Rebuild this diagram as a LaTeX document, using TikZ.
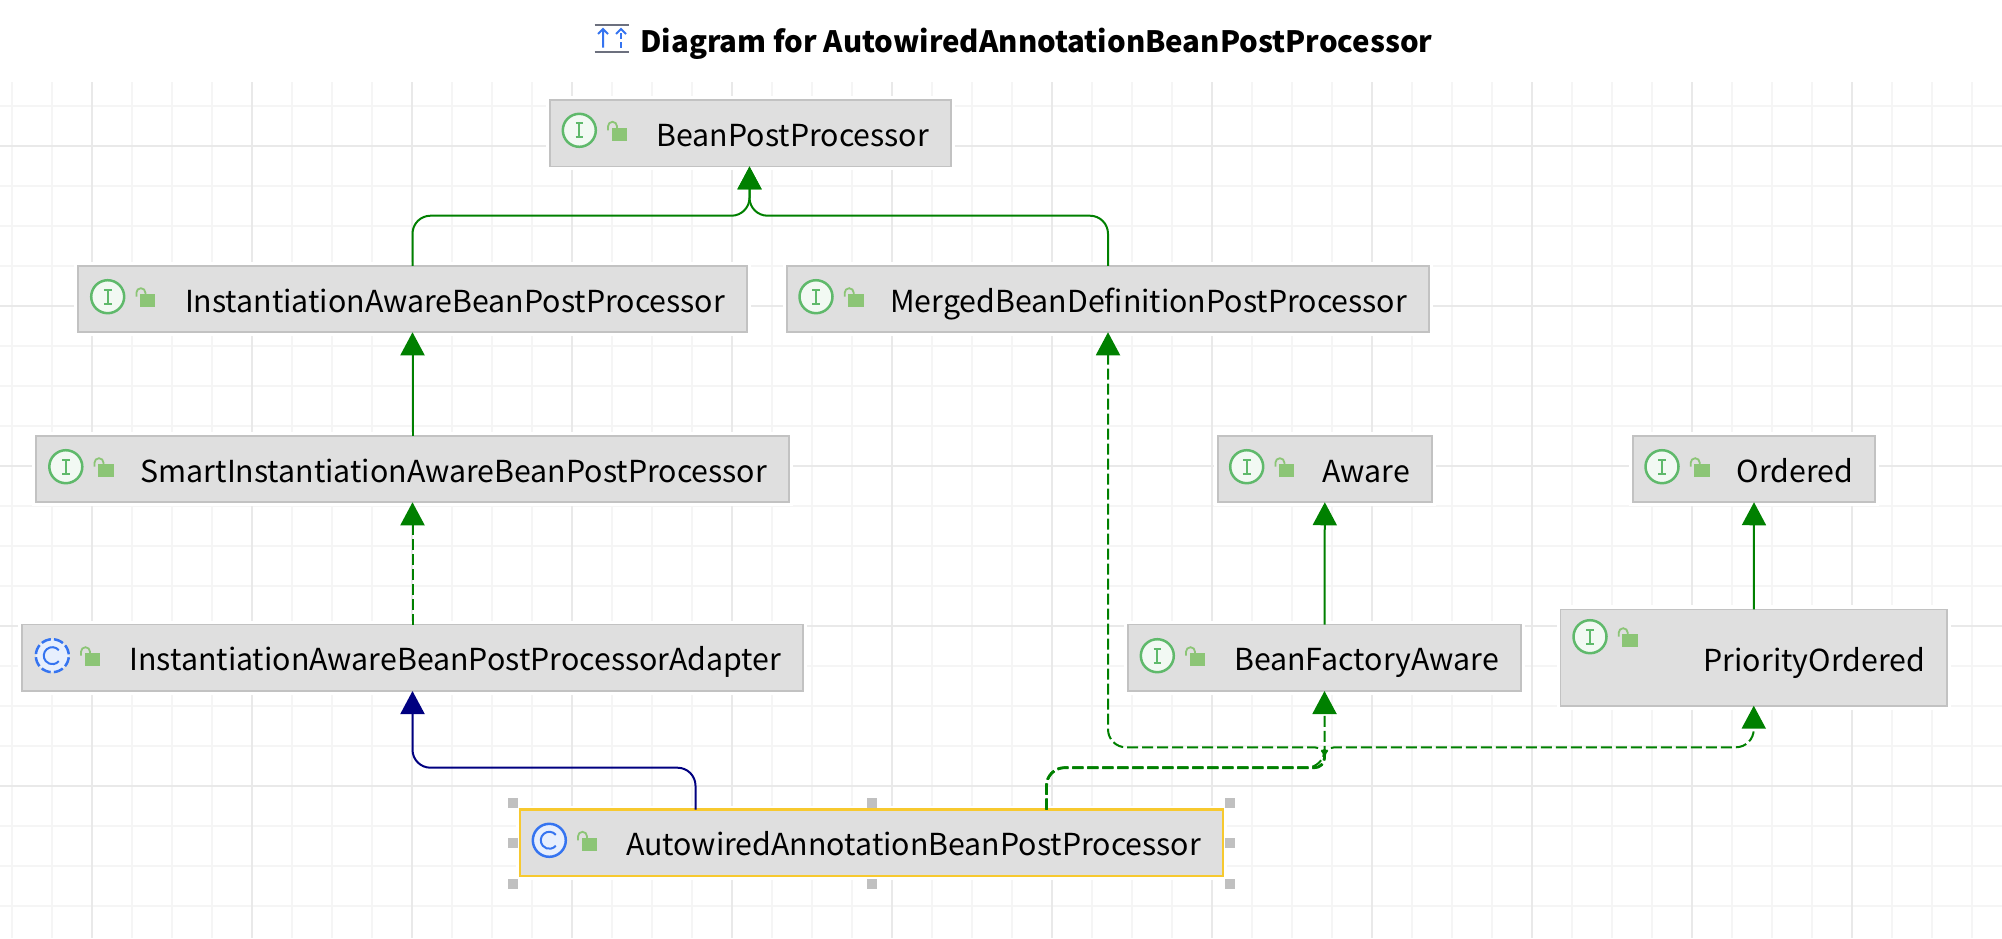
\documentclass[tikz,border=0pt]{standalone}
\usepackage{fontspec}
\setmainfont{Noto Sans CJK SC}
\usetikzlibrary{arrows.meta}
\definecolor{gridminor}{HTML}{F5F5F5}
\definecolor{gridmajor}{HTML}{E9E9E9}
\definecolor{boxfill}{HTML}{DFDFDF}
\definecolor{boxline}{HTML}{C2C2C2}
\definecolor{selline}{HTML}{F7C92F}
\definecolor{handlegrey}{HTML}{C0C0C0}
\definecolor{inhgreen}{HTML}{008000}
\definecolor{extblue}{HTML}{000080}
\definecolor{igreen}{HTML}{5FB96B}
\definecolor{ifill}{HTML}{F2F9F3}
\definecolor{cblue}{HTML}{3574F0}
\definecolor{cfill}{HTML}{E7EFFD}
\definecolor{lockgreen}{HTML}{8CC576}
\definecolor{bargrey}{HTML}{6C707E}
\newdimen\pxu \pxu=0.5pt
\newcommand{\lab}[2]{\hbox to #1\pxu{\hss #2\hskip 11pt}}
\tikzset{
  x=0.5pt,y=-0.5pt,
  box/.style 2 args={rectangle,draw=boxline,fill=boxfill,line width=0.8pt,inner sep=0pt,outer sep=0pt,
    minimum width=#1*0.5pt,minimum height=#2*0.5pt,text height=13.6pt,text depth=0.5pt,
    font=\fontsize{15.15pt}{18pt}\selectfont,
    preaction={draw=white,line width=4pt}},
  sel/.style={draw=selline,line width=1.1pt},
  handle/.style={rectangle,fill=handlegrey,inner sep=0pt,outer sep=0pt,minimum size=5pt},
  gridmin/.style={draw=gridminor,line width=1pt},
  gridmaj/.style={draw=gridmajor,line width=1pt},
  tip/.style={-{Triangle[length=11.5pt,width=12pt]}},
  rel/.style={tip,line width=1pt,rounded corners=9pt},
  inh/.style={rel,draw=inhgreen},
  ext/.style={rel,draw=extblue},
  impl/.style={rel,draw=inhgreen,dash pattern=on 5.5pt off 2pt},
  lockpic/.pic={
    \draw[lockgreen,line width=0.9pt] (28.7,0) -- (28.7,-4) arc[start angle=180,end angle=360,radius=4.5] -- (37.7,-2);
    \fill[lockgreen] (32.4,-2.6) rectangle (47.7,10.7);
  },
  ifc/.pic={
    \draw[igreen,fill=ifill,line width=1.25pt] (0,0) circle[radius=16.5];
    \draw[igreen,line width=1pt] (-3.8,-7) -- (3.8,-7) (0,-7) -- (0,7) (-3.8,7) -- (3.8,7);
    \pic {lockpic};
  },
  cls/.pic={
    \draw[cblue,fill=cfill,line width=1.25pt] (0,0) circle[radius=16.5];
    \draw[cblue,line width=1pt] (6.5,-5.5) arc[start angle=-40,end angle=-320,radius=8.5];
    \pic {lockpic};
  },
  acls/.pic={
    \fill[cfill] (0,0) circle[radius=16.5];
    \draw[cblue,line width=1.25pt,dash pattern=on 4.9pt off 1.58pt,dash phase=5.69pt] (0,0) circle[radius=16.5];
    \draw[cblue,line width=1pt] (6.5,-5.5) arc[start angle=-40,end angle=-320,radius=8.5];
    \pic {lockpic};
  },
}
\begin{document}
\begin{tikzpicture}
\useasboundingbox (0,0) rectangle (2002,938);
\fill[white] (0,0) rectangle (2002,938);
% grid
\foreach \gx in {12,52,...,2000} \draw[gridmin] (\gx,82) -- (\gx,938);
\foreach \gy in {106,146,...,930} \draw[gridmin] (0,\gy) -- (2002,\gy);
\foreach \gx in {92,252,...,2000} \draw[gridmaj] (\gx,82) -- (\gx,938);
\foreach \gy in {146,306,...,930} \draw[gridmaj] (0,\gy) -- (2002,\gy);
% title
\node[anchor=base west,inner sep=0pt,font=\fontsize{14.7pt}{18pt}\selectfont\bfseries] (title) at (640,52.2) {Diagram for AutowiredAnnotationBeanPostProcessor};
\draw[bargrey,line width=1pt] (594.6,24.5) -- (629,24.5) (594.6,51.5) -- (629,51.5);
\draw[cblue,line width=1pt] (603,47.5) -- (603,30) (598,34) -- (603,29) -- (608,34);
\draw[cblue,line width=1pt] (616,34) -- (621,29) -- (626,34);
\draw[cblue,line width=1pt,dash pattern=on 3pt off 1.5pt] (621,47.5) -- (621,30);
% classes
\node[box={401}{66.5}] (bean) at (750.5,133.2) {\lab{401}{BeanPostProcessor}};
\node[box={669}{66.5}] (iabpp) at (412.5,299) {\lab{669}{InstantiationAwareBeanPostProcessor}};
\node[box={642}{66.5}] (merged) at (1108,299) {\lab{642}{MergedBeanDefinitionPostProcessor}};
\node[box={753}{66.5}] (siabpp) at (412.5,469) {\lab{753}{SmartInstantiationAwareBeanPostProcessor}};
\node[box={214}{66.5}] (aware) at (1324.8,469) {\lab{214}{Aware}};
\node[box={242}{66.5}] (ordered) at (1754,469) {\lab{242}{Ordered}};
\node[box={781}{66.5}] (adapter) at (412.5,657.75) {\lab{781}{InstantiationAwareBeanPostProcessorAdapter}};
\node[box={393}{66.5}] (bfa) at (1324.5,657.75) {\lab{393}{BeanFactoryAware}};
\node[box={386.5}{96.4},text height=14.6pt,text depth=0.5pt] (prio) at (1753.75,657.5) {\lab{386.5}{PriorityOrdered}};
\node[box={703}{66.5},sel] (auto) at (871.5,842.75) {\lab{703}{AutowiredAnnotationBeanPostProcessor}};
% selection handles
\node[handle] (hnw) at ([shift={(-3.5pt,3.5pt)}]auto.north west) {};
\node[handle] (hn) at ([yshift=3.5pt]auto.north) {};
\node[handle] (hne) at ([shift={(3.5pt,3.5pt)}]auto.north east) {};
\node[handle] (hw) at ([xshift=-3.5pt]auto.west) {};
\node[handle] (he) at ([xshift=3.5pt]auto.east) {};
\node[handle] (hsw) at ([shift={(-3.5pt,-4pt)}]auto.south west) {};
\node[handle] (hs) at ([yshift=-4pt]auto.south) {};
\node[handle] (hse) at ([shift={(3.5pt,-4pt)}]auto.south east) {};
% icons
\pic at (579.3,130.3) {ifc};
\pic at (107.7,296.7) {ifc};
\pic at (816,296.7) {ifc};
\pic at (65.8,466.7) {ifc};
\pic at (1246.7,466.7) {ifc};
\pic at (1662,466.7) {ifc};
\pic at (52.3,655.7) {acls};
\pic at (1157.3,655.7) {ifc};
\pic at (1590,636.7) {ifc};
\pic at (549.3,840.3) {cls};
% connector helpers
\coordinate (beantip) at ([xshift=-0.5pt]bean.south);
\coordinate (busy) at (0,215.7);
\coordinate (bluey) at (0,767.7);
\coordinate (trunky) at (0,767.7);
\coordinate (splity) at (0,747.3);
\coordinate (bluestart) at ([xshift=-88pt]auto.north);
\coordinate (greenstart) at ([xshift=87.5pt]auto.north);
% connectors
\draw[inh] (iabpp.north) -- (iabpp.north |- busy) -- (beantip |- busy) -- (beantip);
\draw[inh] (merged.north) -- (merged.north |- busy) -- (beantip |- busy) -- (beantip);
\draw[inh] (siabpp.north) -- (iabpp.south);
\draw[impl] (adapter.north) -- (siabpp.south);
\draw[ext] (bluestart) -- (bluestart |- bluey) -- (adapter.south |- bluey) -- (adapter.south);
\draw[inh] (bfa.north) -- (aware.south);
\draw[inh] (prio.north) -- (ordered.south);
\draw[impl] (greenstart) -- (greenstart |- trunky) -- (bfa.south |- trunky) -- (bfa.south);
\draw[impl] (greenstart) -- (greenstart |- trunky) [rounded corners=5pt] -- (bfa.south |- trunky) -- (bfa.south |- splity) [rounded corners=9pt] -- (merged.south |- splity) -- (merged.south);
\draw[impl] (greenstart) -- (greenstart |- trunky) [rounded corners=5pt] -- (bfa.south |- trunky) -- (bfa.south |- splity) [rounded corners=9pt] -- (prio.south |- splity) -- (prio.south);
\draw[impl,-,line width=1.4pt] (greenstart) -- (greenstart |- trunky) [rounded corners=5pt] -- (bfa.south |- trunky) -- (bfa.south |- splity);
\end{tikzpicture}
\end{document}
